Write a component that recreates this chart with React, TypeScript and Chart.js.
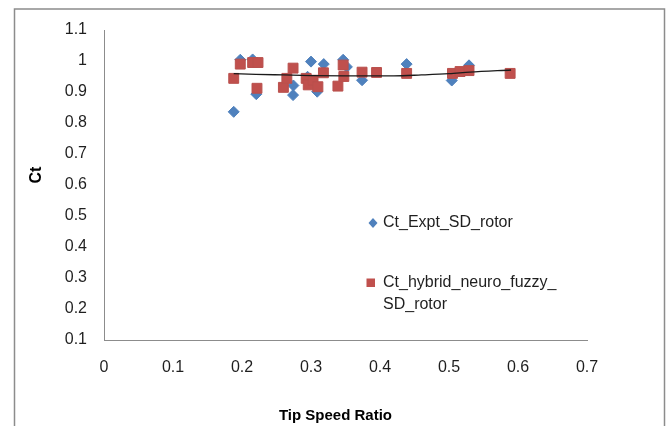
import React, { useEffect, useRef } from "react";
import { Chart, registerables } from "chart.js";

Chart.register(...registerables);

// Experimental Ct values (blue diamonds)
const exptX = [0.188, 0.1975, 0.2154, 0.2207, 0.274, 0.2745, 0.295, 0.300, 0.309, 0.3185, 0.3466, 0.352, 0.374, 0.4386, 0.504, 0.529];
const exptY = [0.836, 1.004, 1.005, 0.893, 0.890, 0.921, 0.949, 0.998, 0.901, 0.990, 1.004, 0.981, 0.938, 0.990, 0.937, 0.986];

// Hybrid neuro fuzzy Ct values (red squares)
const hybridX = [0.188, 0.1975, 0.2154, 0.2232, 0.2217, 0.260, 0.265, 0.274, 0.293, 0.296, 0.303, 0.310, 0.318, 0.339, 0.3466, 0.3476, 0.374, 0.395, 0.4386, 0.505, 0.516, 0.529, 0.5886];
const hybridY = [0.944, 0.990, 0.995, 0.995, 0.912, 0.915, 0.944, 0.977, 0.944, 0.923, 0.938, 0.917, 0.962, 0.919, 0.987, 0.950, 0.964, 0.963, 0.960, 0.960, 0.966, 0.969, 0.960];

// Trend line
const trendX = [0.188, 0.22, 0.26, 0.30, 0.35, 0.42, 0.46, 0.50, 0.53, 0.59];
const trendY = [0.959, 0.957, 0.955, 0.953, 0.952, 0.952, 0.955, 0.959, 0.964, 0.971];

const xTickLabels = ["0", "0.1", "0.2", "0.3", "0.4", "0.5", "0.6", "0.7"];
const yTickLabels = ["0.1", "0.2", "0.3", "0.4", "0.5", "0.6", "0.7", "0.8", "0.9", "1", "1.1"];

const seriesNames = ["Ct_Expt_SD_rotor", "Ct_hybrid_neuro_fuzzy_", "SD_rotor"];
const xTitle = "Tip Speed Ratio";
const yTitle = "Ct";

const BLUE = "#4F81BD";
const RED = "#C0504D";
const FONT = "'Liberation Sans', Arial, sans-serif";

const pts = (xs: number[], ys: number[]) => xs.map((x, i) => ({ x, y: ys[i] }));

const decorPlugin = {
  id: "decor",
  beforeDraw(chart: any) {
    const ctx = chart.ctx;
    ctx.save();
    ctx.fillStyle = "#ffffff";
    ctx.fillRect(0, 0, chart.width, chart.height);
    ctx.strokeStyle = "#8c8c8c";
    ctx.lineWidth = 1.5;
    ctx.strokeRect(14.5, 9, 650, 440);
    ctx.restore();
  },
  afterDraw(chart: any) {
    const ctx = chart.ctx;
    const { left, right, top, bottom } = chart.chartArea;
    ctx.save();
    // axis titles
    ctx.fillStyle = "#000000";
    ctx.font = `bold 15px ${FONT}`;
    ctx.textAlign = "center";
    ctx.textBaseline = "middle";
    ctx.fillText(xTitle, (left + right) / 2 - 10, 416);
    ctx.save();
    ctx.font = `bold 16px ${FONT}`;
    ctx.translate(37, (top + bottom) / 2 - 10);
    ctx.rotate(-Math.PI / 2);
    ctx.fillText(yTitle, 0, 0);
    ctx.restore();

    // legend
    ctx.font = `16px ${FONT}`;
    ctx.textAlign = "left";
    // diamond
    const dx = 373, dy = 223;
    ctx.beginPath();
    ctx.moveTo(dx, dy - 5);
    ctx.lineTo(dx + 4.5, dy);
    ctx.lineTo(dx, dy + 5);
    ctx.lineTo(dx - 4.5, dy);
    ctx.closePath();
    ctx.fillStyle = BLUE;
    ctx.fill();
    ctx.fillStyle = "#1f1f1f";
    ctx.fillText(seriesNames[0], 383, 223);
    // square
    ctx.fillStyle = RED;
    ctx.fillRect(366.5, 278.5, 8.5, 8.5);
    ctx.fillStyle = "#1f1f1f";
    ctx.fillText(seriesNames[1], 383, 283);
    ctx.fillText(seriesNames[2], 383, 305);
    ctx.restore();
  },
};

export default function App() {
  const ref = useRef<HTMLCanvasElement>(null);
  useEffect(() => {
    if (!ref.current) return;
    const chart = new Chart(ref.current, {
      type: "scatter",
      data: {
        datasets: [
          {
            label: "trend",
            type: "line",
            data: pts(trendX, trendY),
            borderColor: "#1a1a1a",
            borderWidth: 1.3,
            pointRadius: 0,
            tension: 0.4,
            cubicInterpolationMode: "monotone",
            order: 0,
          } as any,
          {
            label: seriesNames[1] + seriesNames[2],
            data: pts(hybridX, hybridY),
            pointStyle: "rect",
            pointRadius: 7,
            backgroundColor: RED,
            borderColor: "#B9504D",
            borderWidth: 1,
            order: 1,
          },
          {
            label: seriesNames[0],
            data: pts(exptX, exptY),
            pointStyle: "rectRot",
            pointRadius: 5.5,
            backgroundColor: BLUE,
            borderColor: BLUE,
            borderWidth: 1,
            order: 2,
          },
        ],
      },
      options: {
        animation: false,
        responsive: false,
        events: [],
        layout: { padding: { top: 30, right: 79, left: 0, bottom: 0 } },
        plugins: { legend: { display: false }, tooltip: { enabled: false } },
        scales: {
          x: {
            type: "linear",
            min: 0,
            max: 0.7,
            afterBuildTicks: (s: any) => {
              s.ticks = xTickLabels.map((t) => ({ value: parseFloat(t) }));
            },
            ticks: {
              autoSkip: false,
              maxRotation: 0,
              padding: 18,
              color: "#1f1f1f",
              font: { family: FONT, size: 16 },
              callback: (_v: any, i: number) => xTickLabels[i],
            },
            grid: { drawOnChartArea: false, drawTicks: false },
            border: { display: true, color: "#8c8c8c", width: 1 },
            afterFit: (s: any) => {
              s.height = 86;
            },
          },
          y: {
            type: "linear",
            min: 0.1,
            max: 1.1,
            afterBuildTicks: (s: any) => {
              s.ticks = yTickLabels.map((t) => ({ value: parseFloat(t) }));
            },
            ticks: {
              autoSkip: false,
              padding: 17,
              color: "#1f1f1f",
              font: { family: FONT, size: 16 },
              callback: (_v: any, i: number) => yTickLabels[i],
            },
            grid: { drawOnChartArea: false, drawTicks: false },
            border: { display: true, color: "#8c8c8c", width: 1 },
            afterFit: (s: any) => {
              s.width = 104;
            },
          },
        },
      },
      plugins: [decorPlugin],
    });
    return () => chart.destroy();
  }, []);
  return (
    <div style={{ position: "fixed", left: 0, top: 0, width: 666, height: 426 }}>
      <canvas ref={ref} width={666} height={426} style={{ display: "block" }} />
    </div>
  );
}
